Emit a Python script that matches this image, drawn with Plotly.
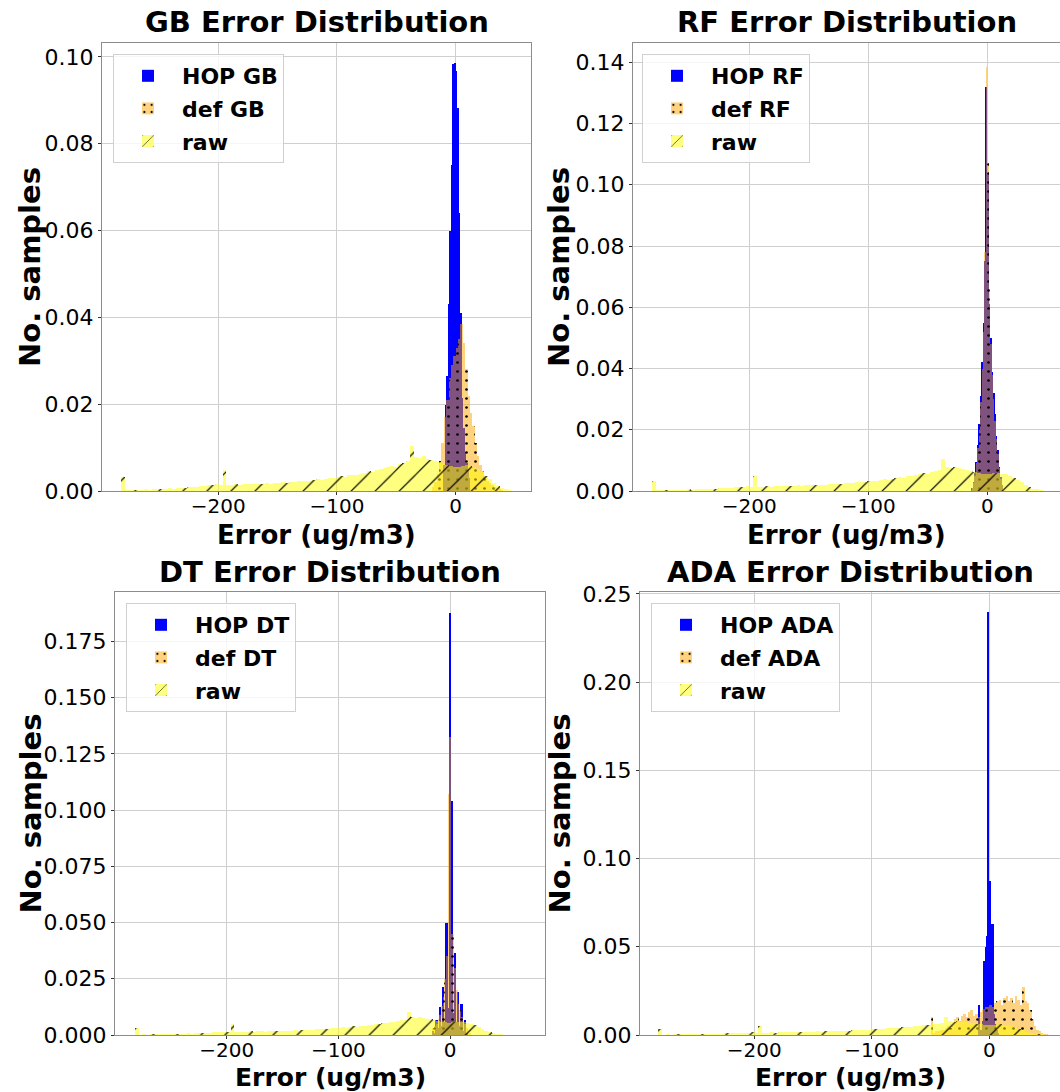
import numpy as np
import plotly.graph_objects as go

# ---------------- data (density histograms) ----------------
# raw errors: shared by all four panels, 100 bins from -282 to 47
raw_left, raw_width = -282.0, 3.29
raw_vals = [
    0.0032, 0.0002, 0.0003, 0.0002, 0.0003, 0.0003, 0.0004, 0.0003, 0.0004, 0.0005,
    0.0004, 0.0005, 0.0006, 0.0005, 0.0007, 0.0006, 0.0008, 0.0009, 0.0010, 0.0009,
    0.0011, 0.0012, 0.0014, 0.0013, 0.0015, 0.0014, 0.0049, 0.0013, 0.0014, 0.0015,
    0.0014, 0.0016, 0.0015, 0.0016, 0.0017, 0.0015, 0.0017, 0.0018, 0.0017, 0.0019,
    0.0018, 0.0020, 0.0019, 0.0021, 0.0020, 0.0022, 0.0023, 0.0022, 0.0024, 0.0025,
    0.0027, 0.0026, 0.0028, 0.0030, 0.0029, 0.0032, 0.0034, 0.0033, 0.0036, 0.0038,
    0.0037, 0.0040, 0.0042, 0.0045, 0.0043, 0.0048, 0.0050, 0.0052, 0.0055, 0.0058,
    0.0056, 0.0062, 0.0065, 0.0068, 0.0103, 0.0078, 0.0075, 0.0080, 0.0074, 0.0072,
    0.0070, 0.0066, 0.0062, 0.0060, 0.0057, 0.0055, 0.0056, 0.0058, 0.0060, 0.0057,
    0.0055, 0.0050, 0.0043, 0.0035, 0.0028, 0.0018, 0.0012, 0.0008, 0.0005, 0.0003,
]

# GB
hop_gb_left, hop_gb_width = -10.0, 1.25
hop_gb_vals = [0.006, 0.0198, 0.0264, 0.043, 0.0598, 0.075, 0.0983, 0.0987, 0.0968,
               0.0883, 0.064, 0.041, 0.0215, 0.0145, 0.009, 0.0065, 0.005, 0.003]
def_gb_left, def_gb_width = -20.0, 2.0
def_gb_vals = [0.001, 0.002, 0.004, 0.007, 0.011, 0.017, 0.021, 0.026, 0.029, 0.031,
               0.033, 0.035, 0.0385, 0.034, 0.028, 0.022, 0.018, 0.015, 0.011, 0.008,
               0.006, 0.0045, 0.0032, 0.0024, 0.0018, 0.0013, 0.0009, 0.0006, 0.0004, 0.0002]

# RF
hop_rf_left, hop_rf_width = -13.2, 1.2
hop_rf_vals = [0.001, 0.003, 0.006, 0.0095, 0.015, 0.022, 0.031, 0.042, 0.055, 0.075,
               0.132, 0.1035, 0.061, 0.05, 0.039, 0.032, 0.025, 0.018, 0.0133, 0.008,
               0.0045, 0.002]
def_rf_left, def_rf_width = -13.2, 1.2
def_rf_vals = [0.001, 0.0025, 0.005, 0.009, 0.014, 0.02, 0.029, 0.04, 0.052, 0.078,
               0.1386, 0.107, 0.066, 0.048, 0.038, 0.03, 0.023, 0.017, 0.012, 0.0075,
               0.004, 0.002]

# DT
hop_dt_left, hop_dt_width = -15.75, 1.5
hop_dt_vals = [0.002, 0.001, 0.0067, 0.003, 0.0126, 0.004, 0.0215, 0.006, 0.0496, 0.012,
               0.1875, 0.104, 0.01, 0.0366, 0.006, 0.019, 0.004, 0.014, 0.002, 0.0067, 0.001]
def_dt_left, def_dt_width = -15.75, 1.5
def_dt_vals = [0.003, 0.004, 0.005, 0.007, 0.009, 0.013, 0.017, 0.025, 0.035, 0.107,
               0.1325, 0.045, 0.045, 0.03, 0.02, 0.014, 0.011, 0.008, 0.006, 0.005,
               0.003, 0.002, 0.001]

# ADA
hop_ada_left, hop_ada_width = -10.8, 1.2
hop_ada_vals = [0.0, 0.017, 0.002, 0.003, 0.008, 0.042, 0.05, 0.0559, 0.2397, 0.0871,
                0.063, 0.063, 0.012, 0.006, 0.003, 0.001]
def_ada_left, def_ada_width = -50.0, 2.0
def_ada_vals = [0.010, 0.001, 0.002, 0.002, 0.003, 0.003, 0.004, 0.005, 0.004, 0.005,
                0.009, 0.010, 0.008, 0.011, 0.012, 0.010, 0.013, 0.014, 0.011, 0.012,
                0.010, 0.013, 0.015, 0.016, 0.016, 0.017, 0.016, 0.018, 0.019, 0.020,
                0.017, 0.021, 0.022, 0.019, 0.021, 0.018, 0.022, 0.020, 0.017, 0.027,
                0.019, 0.018, 0.014, 0.009, 0.005, 0.003, 0.002, 0.001, 0.0008, 0.0005]

models = ["GB", "RF", "DT", "ADA"]
hop_series = [(hop_gb_left, hop_gb_width, hop_gb_vals), (hop_rf_left, hop_rf_width, hop_rf_vals),
              (hop_dt_left, hop_dt_width, hop_dt_vals), (hop_ada_left, hop_ada_width, hop_ada_vals)]
def_series = [(def_gb_left, def_gb_width, def_gb_vals), (def_rf_left, def_rf_width, def_rf_vals),
              (def_dt_left, def_dt_width, def_dt_vals), (def_ada_left, def_ada_width, def_ada_vals)]

x_tickvals = [-200, -100, 0]
x_ticktext = ["\u2212200", "\u2212100", "0"]
y_ticks = [
    ([0.00, 0.02, 0.04, 0.06, 0.08, 0.10], ".2f"),
    ([0.00, 0.02, 0.04, 0.06, 0.08, 0.10, 0.12, 0.14], ".2f"),
    ([0.000, 0.025, 0.050, 0.075, 0.100, 0.125, 0.150, 0.175], ".3f"),
    ([0.00, 0.05, 0.10, 0.15, 0.20, 0.25], ".2f"),
]

# ---------------- layout geometry (pixels) ----------------
W, H = 1060, 1092
boxes = [  # x0, x1, y_top, y_bottom
    (102, 531, 43, 491),
    (633, 1060, 43, 491),
    (115, 545, 592, 1035),
    (640, 1060, 592, 1035),
]
x_ranges = [[-298, 63.5], [-297.7, 61.1], [-300, 85], [-297.3, 60.2]]
y_ranges = [[0, 0.1032], [0, 0.1463], [0, 0.197], [0, 0.2511]]
legend_pos = [(113, 54), (642, 54), (126, 603), (651, 603)]
ylabel_x = [30, 559, 30, 559]
title_dy = [21, 21, 20, 20]
xlabel_dy = [44, 44, 42, 42]
xlabel_size = [26, 26, 25, 25]

FONT = "DejaVu Sans"


def centers(left, width, vals):
    return left + width * (np.arange(len(vals)) + 0.5)


fig = go.Figure()
for k, m in enumerate(models):
    xa = "x" if k == 0 else f"x{k+1}"
    ya = "y" if k == 0 else f"y{k+1}"
    lg = "legend" if k == 0 else f"legend{k+1}"
    hl, hw, hv = hop_series[k]
    dl, dw, dv = def_series[k]
    fig.add_trace(go.Bar(
        x=centers(hl, hw, hv), y=hv, width=hw, name=f"HOP {m}",
        marker=dict(color="rgb(0,0,255)", line=dict(width=0)),
        xaxis=xa, yaxis=ya, legend=lg, legendgroup=f"{m}_hop"))
    fig.add_trace(go.Bar(
        x=centers(dl, dw, dv), y=dv, width=dw, name=f"def {m}",
        marker=dict(color="rgba(255,165,0,0.5)", line=dict(width=0),
                    pattern=dict(shape=".", fillmode="replace", bgcolor="rgba(255,165,0,0.5)",
                                 fgcolor="black", size=9, solidity=0.07)),
        xaxis=xa, yaxis=ya, legend=lg, legendgroup=f"{m}_def"))
    fig.add_trace(go.Bar(
        x=centers(raw_left, raw_width, raw_vals), y=raw_vals, width=raw_width, name="raw",
        marker=dict(color="rgba(255,255,0,0.5)", line=dict(width=0),
                    pattern=dict(shape="/", fillmode="replace", bgcolor="rgba(255,255,0,0.5)",
                                 fgcolor="black", size=17, solidity=0.07)),
        xaxis=xa, yaxis=ya, legend=lg, legendgroup=f"{m}_raw"))

layout = dict(
    width=W, height=H, margin=dict(l=0, r=0, t=0, b=0, pad=0, autoexpand=False),
    paper_bgcolor="white", plot_bgcolor="white",
    barmode="overlay", bargap=0,
    font=dict(family=FONT, color="black", size=22),
    showlegend=True,
)
annotations = []
axis_common = dict(showgrid=True, gridcolor="#cfcfcf", gridwidth=1, zeroline=False,
                   showline=True, linecolor="#8c8c8c", linewidth=1, mirror=True,
                   ticks="outside", ticklen=3, tickcolor="#333", tickwidth=1,
                   automargin=False)
for k, m in enumerate(models):
    x0, x1, yt, yb = boxes[k]
    sfx = "" if k == 0 else str(k + 1)
    layout[f"xaxis{sfx}"] = dict(
        domain=[x0 / W, x1 / W], range=x_ranges[k], anchor=f"y{sfx}",
        tickvals=x_tickvals, ticktext=x_ticktext, ticklabelstandoff=-6,
        tickfont=dict(family=FONT, size=20, color="black"), **axis_common)
    tv, fmt = y_ticks[k]
    layout[f"yaxis{sfx}"] = dict(
        domain=[1 - yb / H, 1 - yt / H], range=y_ranges[k], anchor=f"x{sfx}",
        tickvals=tv, tickformat=fmt,
        tickfont=dict(family=FONT, size=22, color="black"), **axis_common)
    lx, ly = legend_pos[k]
    layout["legend" if k == 0 else f"legend{k+1}"] = dict(
        x=lx / W, y=1 - ly / H, xanchor="left", yanchor="top",
        xref="paper", yref="paper",
        bgcolor="rgba(255,255,255,0.8)", bordercolor="#d0d0d0", borderwidth=1,
        font=dict(family=FONT, size=22, color="black", weight="bold"),
        traceorder="grouped", tracegroupgap=1, itemwidth=58)
    cx = (x0 + x1) / 2
    annotations.append(dict(text=f"{m} Error Distribution", x=cx / W,
                            y=1 - (yt - title_dy[k]) / H,
                            xref="paper", yref="paper", showarrow=False,
                            xanchor="center", yanchor="middle",
                            font=dict(family=FONT, size=29, weight="bold")))
    annotations.append(dict(text="Error (ug/m3)", x=cx / W, y=1 - (yb + xlabel_dy[k]) / H,
                            xref="paper", yref="paper", showarrow=False,
                            xanchor="center", yanchor="middle",
                            font=dict(family=FONT, size=xlabel_size[k], weight="bold")))
    annotations.append(dict(text="No. samples", x=ylabel_x[k] / W, y=1 - ((yt + yb) / 2) / H,
                            xref="paper", yref="paper", showarrow=False, textangle=-90,
                            xanchor="center", yanchor="middle",
                            font=dict(family=FONT, size=29, weight="bold")))
layout["annotations"] = annotations
fig.update_layout(**layout)

fig.write_html("out.html")
